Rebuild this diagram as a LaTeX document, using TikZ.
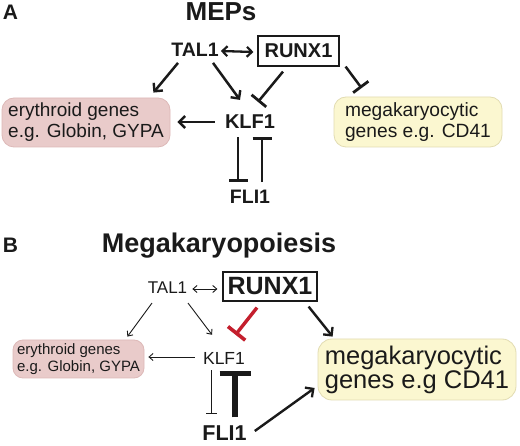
\documentclass[tikz,border=0pt]{standalone}
\usepackage{fontspec}
\setmainfont{Liberation Sans}
\usetikzlibrary{arrows.meta,calc}
\definecolor{pinkfill}{HTML}{E9CBCA}
\definecolor{pinkdraw}{HTML}{DDB9B8}
\definecolor{yelfill}{HTML}{FBF7D0}
\definecolor{yeldraw}{HTML}{E2DCB2}
\definecolor{inhred}{HTML}{C41F2D}
\definecolor{ink}{HTML}{1A1A1A}
\begin{document}
\begin{tikzpicture}[x=1pt,y=-1pt,
  lbl/.style={inner sep=0pt, text=ink},
  panel/.style={lbl, font=\fontsize{21}{23}\selectfont\bfseries},
  gbox/.style={inner sep=0pt, align=left, text=ink, line width=0.8pt},
  pinkbox/.style={gbox, draw=pinkdraw, fill=pinkfill},
  yelbox/.style={gbox, draw=yeldraw, fill=yelfill},
  actA/.style={draw=ink, line width=2.5pt, -{Straight Barb[length=6pt,width=12pt,line width=2.4pt]}},
  dblA/.style={draw=ink, line width=2.3pt, {Straight Barb[length=5pt,width=10pt,line width=2.2pt]}-{Straight Barb[length=5pt,width=10pt,line width=2.2pt]}},
  inhA/.style={draw=ink, line width=2.5pt, -{Bar[width=19pt,line width=2.8pt]}},
  actBthin/.style={draw=ink, line width=0.9pt, -{Straight Barb[length=4pt,width=7pt,line width=0.9pt]}},
  dblB/.style={draw=ink, line width=0.9pt, {Straight Barb[length=4pt,width=7pt,line width=0.9pt]}-{Straight Barb[length=4pt,width=7pt,line width=0.9pt]}},
  actBthick/.style={draw=ink, line width=2.4pt, -{Straight Barb[length=6pt,width=12pt,line width=2.3pt]}},
  inhBthin/.style={draw=ink, line width=0.9pt, -{Bar[width=11pt,line width=0.9pt]}},
  inhBthick/.style={draw=ink, line width=6pt, -{Bar[width=31pt,line width=5pt]}},
  inhBred/.style={draw=inhred, line width=3.4pt, -{Bar[width=22pt,line width=3.6pt]}}
]
\useasboundingbox (0,0) rectangle (520,446);
\fill[white] (0,0) rectangle (520,446);

% ---------------- Panel A ----------------
\node[panel] (labA) at (10.5,12.5) {A};
\node[lbl, font=\fontsize{26}{28}\selectfont\bfseries] (titA) at (221,12) {MEPs};
\node[lbl, font=\fontsize{19.5}{21}\selectfont\bfseries] (tal1A) at (195,50) {TAL1};
\node[lbl, draw=ink, line width=1.2pt, minimum width=81pt, minimum height=30pt, font=\fontsize{20}{22}\selectfont\bfseries] (runxA) at (298.5,51) {RUNX1};
\node[lbl, font=\fontsize{20}{22}\selectfont\bfseries] (klfA) at (250,122) {KLF1};
\node[lbl, font=\fontsize{19.5}{21}\selectfont\bfseries] (fliA) at (250,197) {FLI1};
\node[pinkbox, rounded corners=12pt, minimum width=168pt, minimum height=49pt, font=\fontsize{19}{21}\selectfont] (eryA) at (86,122.5) {erythroid genes\\e.g. Globin, GYPA};
\node[yelbox, rounded corners=12pt, minimum width=168pt, minimum height=50pt, font=\fontsize{19.2}{21}\selectfont] (megA) at (418,122) {megakaryocytic\\genes e.g. CD41};

\draw[dblA] ($(tal1A.east)+(2,1)$) -- ($(runxA.west)+(-4,1)$);
\draw[actA] ($(tal1A.south)+(-17,6)$) -- ($(eryA.north east)+(-17,-5)$);
\draw[actA] ($(tal1A.south)+(18,6)$) -- ($(klfA.north)+(-10,-15)$);
\draw[inhA] ($(runxA.south)+(-15.5,5)$) -- ($(klfA.north)+(8,-13)$);
\draw[inhA] ($(runxA.south east)+(6,0)$) -- ($(megA.north west)+(28,-8.5)$);
\draw[actA] ($(klfA.west)+(-10,0)$) -- ($(eryA.east)+(7,-0.5)$);
\draw[inhA] ($(klfA.south)+(-12,8)$) -- ($(fliA.north)+(-12,-8)$);
\draw[inhA] ($(fliA.north)+(12,-8)$) -- ($(klfA.south)+(12,8)$);

% ---------------- Panel B ----------------
\node[panel] (labB) at (10.5,245) {B};
\node[lbl, font=\fontsize{27}{29}\selectfont\bfseries] (titB) at (219,246) {Megakaryopoiesis};
\node[lbl, font=\fontsize{17}{19}\selectfont] (tal1B) at (167.5,288) {TAL1};
\node[lbl, draw=ink, line width=1.2pt, minimum width=94pt, minimum height=29pt, font=\fontsize{25}{27}\selectfont\bfseries] (runxB) at (270,286.5) {RUNX1};
\node[lbl, font=\fontsize{17.5}{19}\selectfont] (klfB) at (224,358) {KLF1};
\node[lbl, font=\fontsize{21.5}{23}\selectfont\bfseries] (fliB) at (224.5,433.5) {FLI1};
\node[pinkbox, rounded corners=10pt, minimum width=131pt, minimum height=38pt, font=\fontsize{15}{17}\selectfont] (eryB) at (78.5,359) {erythroid genes\\e.g. Globin, GYPA};
\node[yelbox, rounded corners=14pt, minimum width=198pt, minimum height=61pt, font=\fontsize{25.5}{22.5}\selectfont] (megB) at (417,369.5) {megakaryocytic\\genes e.g CD41};

\draw[dblB] ($(tal1B.east)+(5,1)$) -- ($(runxB.west)+(-5,2.5)$);
\draw[actBthin] ($(tal1B.south)+(-15.5,9)$) -- ($(eryB.north east)+(-17,-3)$);
\draw[actBthin] ($(tal1B.south)+(20.5,9)$) -- ($(klfB.north)+(-12,-17)$);
\draw[inhBred] ($(runxB.south)+(-13,6)$) -- ($(klfB.north)+(11.5,-17)$);
\draw[actBthick] ($(runxB.south east)+(-9,5)$) -- ($(megB.north west)+(15,-2)$);
\draw[actBthin] ($(klfB.west)+(-8,-1)$) -- ($(eryB.east)+(4,-2)$);
\draw[inhBthin] ($(klfB.south)+(-13,6)$) -- ($(fliB.north)+(-13.5,-11.6)$);
\draw[inhBthick] ($(fliB.north)+(10.5,-8.6)$) -- ($(klfB.south)+(11,7)$);
\draw[actBthick] ($(fliB.east)+(8,-2.5)$) -- ($(megB.west)+(-3,18.5)$);
\end{tikzpicture}
\end{document}
